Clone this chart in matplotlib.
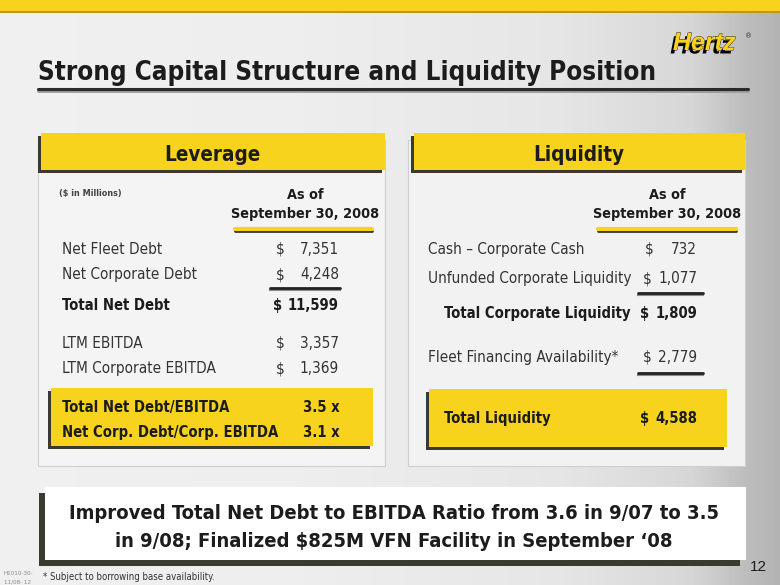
import os
import numpy as np
import matplotlib
matplotlib.use("Agg")
import matplotlib.pyplot as plt
from matplotlib.patches import Rectangle
from matplotlib import font_manager as fm
import matplotlib.patheffects as pe

# ---------- slide content ----------
TITLE = "Strong Capital Structure and Liquidity Position"
AS_OF = ["As of", "September 30, 2008"]

leverage_labels = ["Net Fleet Debt", "Net Corporate Debt", "Total Net Debt",
                   "LTM EBITDA", "LTM Corporate EBITDA"]
leverage_values = ["7,351", "4,248", "11,599", "3,357", "1,369"]
leverage_bold = [False, False, True, False, False]

ratio_labels = ["Total Net Debt/EBITDA", "Net Corp. Debt/Corp. EBITDA"]
ratio_values = ["3.5 x", "3.1 x"]

liquidity_labels = ["Cash \u2013 Corporate Cash", "Unfunded Corporate Liquidity",
                    "Total Corporate Liquidity", "Fleet Financing Availability*"]
liquidity_values = ["732", "1,077", "1,809", "2,779"]
liquidity_bold = [False, False, True, False]

total_liquidity = "4,588"

headline = ["Improved Total Net Debt to EBITDA Ratio from 3.6 in 9/07 to 3.5",
            "in 9/08; Finalized $825M VFN Facility in September \u201808"]
footnote = "* Subject to borrowing base availability."

# ---------- fonts: look for a narrow / condensed face ----------
ttf_files = [f.fname for f in fm.fontManager.ttflist]


def find_font(names, must, avoid):
    by_base = {os.path.basename(f).lower(): f for f in ttf_files}
    for n in names:
        if n.lower() in by_base:
            return by_base[n.lower()]
    for f in ttf_files:
        b = os.path.basename(f).lower()
        if ("condensed" in b or "narrow" in b) and all(m in b for m in must) \
                and not any(a in b for a in avoid):
            return f
    return None


reg_file = find_font(["LiberationSansNarrow-Regular.ttf", "NotoSans-Condensed.ttf",
                      "DejaVuSansCondensed.ttf", "RobotoCondensed-Regular.ttf"],
                     [], ["bold", "italic", "oblique", "light", "thin", "black", "medium",
                          "semi", "extra"])
bold_file = find_font(["LiberationSansNarrow-Bold.ttf", "NotoSans-CondensedBold.ttf",
                       "DejaVuSansCondensed-Bold.ttf", "RobotoCondensed-Bold.ttf"],
                      ["bold"], ["italic", "oblique", "semi", "extra"])

FP_REG = fm.FontProperties(fname=reg_file) if reg_file else fm.FontProperties(family="DejaVu Sans")
FP_BOLD = fm.FontProperties(fname=bold_file) if bold_file else \
    fm.FontProperties(family="DejaVu Sans", weight="bold")

# ---------- style ----------
YELLOW = "#F8D31E"
DARK = "#1c1c1c"
GREY_TXT = "#333333"
SHADOW = "#3a3a30"

fig = plt.figure(figsize=(7.8, 5.85), dpi=100)
ax = fig.add_axes([0, 0, 1, 1])
ax.set_xlim(0, 780)
ax.set_ylim(585, 0)
ax.axis("off")
renderer = fig.canvas.get_renderer()


def size_for(s, fp, target_px):
    t = ax.text(0, 0, s, fontproperties=fp, fontsize=10)
    w = t.get_window_extent(renderer).width
    t.remove()
    return 10 * target_px / w


def put(x, y, s, fp, size, color=DARK, ha="left", z=5):
    return ax.text(x, y, s, fontproperties=fp, fontsize=size, color=color,
                   ha=ha, va="baseline", zorder=z)


def money(x_dollar, x_right, y, val, fp, size, color=DARK):
    # value right-aligned, "$" in its column but kept clear of the number
    t = put(x_right, y, val, fp, size, color=color, ha="right")
    left = x_right - t.get_window_extent(renderer).width
    put(min(x_dollar, left - 15), y, "$", fp, size, color=color)


# background gradient
gx = np.array([0, 300, 560, 690, 745, 780])
gv = np.array([0.94, 0.93, 0.90, 0.84, 0.74, 0.70])
cols = np.interp(np.arange(780), gx, gv)
bg = np.tile(cols, (585, 1))
ax.imshow(bg, cmap="gray", vmin=0, vmax=1, extent=(0, 780, 585, 0),
          aspect="auto", zorder=0)

# top yellow band
ax.add_patch(Rectangle((0, 0), 780, 11, fc=YELLOW, ec="none", zorder=1))
ax.add_patch(Rectangle((0, 11), 780, 2, fc="#B89A18", ec="none", zorder=1))

# title and rule
put(38, 80, TITLE, FP_BOLD, size_for(TITLE, FP_BOLD, 612))
ax.plot([38, 748], [91, 91], color="#9a9a9a", lw=2, solid_capstyle="round", zorder=2)
ax.plot([38, 748], [88.5, 88.5], color="#2a2a2a", lw=2.2, solid_capstyle="round", zorder=3)

# Hertz logo
logo = ax.text(673, 50, "Hertz", fontsize=18, fontweight="heavy", style="italic",
               color=YELLOW, family=["Liberation Sans", "DejaVu Sans"],
               ha="left", va="baseline", zorder=5)
logo.set_path_effects([pe.withSimplePatchShadow(offset=(-2, -2.5), shadow_rgbFace="black",
                                                 alpha=1.0),
                       pe.withStroke(linewidth=0.6, foreground="#222222")])
ax.text(745, 36, "\u00ae", fontsize=5, color="#333333", ha="left", va="center", zorder=5)


def box(x0, y0, x1, y1, fc, shadow=True, off=3, ec="none", z=2):
    if shadow:
        ax.add_patch(Rectangle((x0 - off, y0 + off), x1 - x0, y1 - y0,
                               fc=SHADOW, ec="none", zorder=z))
    ax.add_patch(Rectangle((x0, y0), x1 - x0, y1 - y0, fc=fc, ec=ec,
                           lw=0.8, zorder=z + 0.1))


def yellow_rule(x0, x1, y):
    ax.plot([x0, x1], [y + 2, y + 2], color="#333333", lw=2, solid_capstyle="round", zorder=4)
    ax.plot([x0, x1], [y, y], color=YELLOW, lw=3, solid_capstyle="round", zorder=4.1)


def dark_rule(x0, x1, y):
    ax.plot([x0, x1], [y + 1.5, y + 1.5], color="#8a8a8a", lw=1.5, zorder=4)
    ax.plot([x0, x1], [y, y], color="#222222", lw=2, solid_capstyle="round", zorder=4.1)


# text sizes: fitted to slide widths, then enlarged a little since the
# available condensed face is wider than the original one
S_HEAD = size_for("Leverage", FP_BOLD, 96)
S_ASOF = size_for(AS_OF[1], FP_BOLD, 148)
S_REG = size_for("LTM Corporate EBITDA", FP_REG, 139) * 1.1
S_BOLD = S_REG * 0.97
S_SMALL = size_for("($ in Millions)", FP_BOLD, 62)

# panels
box(38, 140, 385, 466, "#F4F4F4", shadow=False, ec="#cfcfcf")
box(408, 140, 745, 466, "#F2F2F2", shadow=False, ec="#cfcfcf")

# headers
box(41, 133, 385, 170, YELLOW, z=3)
put(212, 161, "Leverage", FP_BOLD, S_HEAD, ha="center")
box(414, 133, 745, 170, YELLOW, z=3)
put(579, 161, "Liquidity", FP_BOLD, S_HEAD, ha="center")

# ---- leverage panel ----
put(59, 196, "($ in Millions)", FP_BOLD, S_SMALL, color="#444444")
for i, s in enumerate(AS_OF):
    put(305, 199 + 19 * i, s, FP_BOLD, S_ASOF, ha="center")
yellow_rule(235, 372, 229)

lev_y = [254, 279, 310, 348, 373]
for lab, val, b, y in zip(leverage_labels, leverage_values, leverage_bold, lev_y):
    fp, sz, c = (FP_BOLD, S_BOLD, DARK) if b else (FP_REG, S_REG, GREY_TXT)
    put(62, y, lab, fp, sz, color=c)
    money(276, 339, y, val, fp, sz, color=c)
dark_rule(270, 340, 288)

box(51, 388, 373, 446, YELLOW, z=3)
for lab, val, y in zip(ratio_labels, ratio_values, [412, 437]):
    put(62, y, lab, FP_BOLD, S_BOLD)
    put(340, y, val, FP_BOLD, S_BOLD, ha="right")

# ---- liquidity panel ----
for i, s in enumerate(AS_OF):
    put(667, 199 + 19 * i, s, FP_BOLD, S_ASOF, ha="center")
yellow_rule(598, 736, 229)

liq_y = [254, 283, 318, 362]
liq_x = [428, 428, 444, 428]
for lab, val, b, y, x in zip(liquidity_labels, liquidity_values, liquidity_bold, liq_y, liq_x):
    fp, sz, c = (FP_BOLD, S_BOLD, DARK) if b else (FP_REG, S_REG, GREY_TXT)
    put(x, y, lab, fp, sz, color=c)
    money(645, 697, y, val, fp, sz, color=c)
dark_rule(638, 703, 293)
dark_rule(638, 703, 373)

box(429, 389, 727, 447, YELLOW, z=3)
put(444, 423, "Total Liquidity", FP_BOLD, S_BOLD)
money(645, 697, 423, total_liquidity, FP_BOLD, S_BOLD)

# ---- bottom message box ----
box(45, 487, 746, 560, "white", off=6, z=3)
S_LINE = size_for(headline[0], FP_BOLD, 648)
for s, y in zip(headline, [519, 547]):
    put(394, y, s, FP_BOLD, S_LINE, ha="center")

put(43, 580, footnote, FP_REG, size_for(footnote, FP_REG, 172), color=GREY_TXT)
put(4, 575, "H1010-30-", FP_REG, 4.5, color="#888888")
put(4, 583, "11/08- 12", FP_REG, 4.5, color="#888888")
ax.text(750, 571, "12", fontsize=11, color=DARK, family=["Liberation Sans", "DejaVu Sans"],
        ha="left", va="baseline", zorder=5)

fig.savefig("out.png", dpi=100)
